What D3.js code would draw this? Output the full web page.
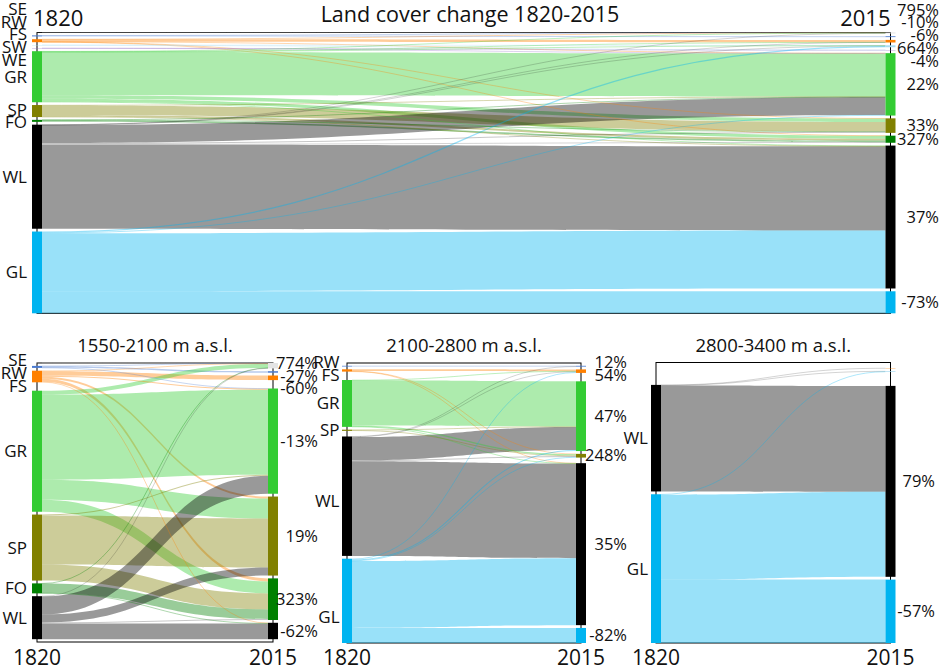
<!DOCTYPE html>
<html>
<head>
<meta charset="utf-8">
<script src="https://cdn.jsdelivr.net/npm/d3@7"></script>
<style>
  body { margin: 0; background: #fff; }
  text { font-family: "Open Sans", sans-serif; fill: #111; }
</style>
</head>
<body>
<svg id="chart"></svg>
<script>
// land cover classes, top to bottom
const classes = ["SE", "RW", "FS", "SW", "WE", "GR", "SP", "FO", "WL", "GL"];
const classColors = ["#e4e4e4", "#4a7bd0", "#ff8000", "#a8dcf2", "#9470c8",
                     "#33cc33", "#808000", "#008000", "#000000", "#00b4f0"];

// flows 1820 -> 2015 : [from, to, area]
const flowsAll = [
    ["SE", "SE", 0.1],
    ["RW", "SE", 0.15], ["RW", "RW", 0.85],
    ["FS", "SE", 0.1], ["FS", "FS", 2.4], ["FS", "GR", 0.2], ["FS", "SP", 0.2], ["FS", "FO", 0.1],
    ["SW", "SW", 0.25], ["SW", "WE", 0.05],
    ["WE", "WE", 0.25], ["WE", "GR", 0.05],
    ["GR", "SE", 0.5], ["GR", "FS", 0.1], ["GR", "SW", 0.3], ["GR", "GR", 43], ["GR", "SP", 3.5], ["GR", "FO", 3], ["GR", "WL", 0.6],
    ["SP", "GR", 0.5], ["SP", "SP", 9.5], ["SP", "FO", 1.8], ["SP", "WL", 0.2],
    ["FO", "GR", 0.1], ["FO", "SP", 0.3], ["FO", "FO", 1.6],
    ["WL", "SE", 0.1], ["WL", "FS", 0.1], ["WL", "SW", 0.2], ["WL", "GR", 18], ["WL", "SP", 1], ["WL", "FO", 0.6], ["WL", "WL", 84],
    ["GL", "SW", 1.2], ["GL", "GR", 0.5], ["GL", "WL", 58], ["GL", "GL", 22]
];
const flowsLow = [
    ["SE", "SE", 0.1],
    ["RW", "SE", 0.3], ["RW", "RW", 1.5], ["RW", "GR", 0.2],
    ["FS", "SE", 0.5], ["FS", "FS", 4.6], ["FS", "GR", 1], ["FS", "SP", 2], ["FS", "FO", 3], ["FS", "WL", 0.5],
    ["GR", "SE", 4], ["GR", "GR", 85], ["GR", "SP", 20], ["GR", "FO", 12],
    ["SP", "GR", 1], ["SP", "SP", 49], ["SP", "FO", 16],
    ["FO", "SE", 0.2], ["FO", "FO", 9.6], ["FO", "WL", 0.2],
    ["WL", "SE", 0.3], ["WL", "GR", 18], ["WL", "SP", 8], ["WL", "FO", 1], ["WL", "WL", 15.7]
];
const flowsMid = [
    ["RW", "RW", 0.7],
    ["FS", "FS", 1.8], ["FS", "SP", 0.3], ["FS", "WL", 0.2],
    ["GR", "FS", 0.3], ["GR", "GR", 45], ["GR", "SP", 1.2], ["GR", "WL", 0.2],
    ["SP", "GR", 0.5], ["SP", "SP", 0.7],
    ["WL", "RW", 0.1], ["WL", "FS", 0.6], ["WL", "GR", 23], ["WL", "SP", 1], ["WL", "WL", 94.3],
    ["GL", "FS", 0.8], ["GL", "GR", 1], ["GL", "SP", 0.5], ["GL", "WL", 66.7], ["GL", "GL", 15]
];
const flowsHigh = [
    ["WL", "FS", 0.3], ["WL", "SW", 0.3], ["WL", "WL", 106],
    ["GL", "SW", 0.4], ["GL", "WL", 85], ["GL", "GL", 63.4]
];

// labels on the 1820 side
const leftLabelsAll = ["SE", "RW", "FS", "SW", "WE", "GR", "SP", "FO", "WL", "GL"];
const leftLabelsLow = ["SE", "RW", "FS", "GR", "SP", "FO", "WL"];
const leftLabelsMid = ["RW", "FS", "GR", "SP", "WL", "GL"];
const leftLabelsHigh = ["WL", "GL"];

// change labels on the 2015 side, one per class
const changeAll = ["795%", "-10%", "-6%", "664%", "-4%", "22%", "33%", "327%", "37%", "-73%"];
const changeLow = ["774%", "-27%", "-60%", null, null, "-13%", "19%", "323%", "-62%", null];
const changeMid = [null, "12%", "54%", null, null, "47%", "248%", null, "35%", "-82%"];
const changeHigh = [null, null, null, null, null, null, null, null, "79%", "-57%"];

const years = ["1820", "2015"];

const width = 941, height = 670;
const barW = 10, gap = 2.8, labelGap = 12.8;

const svg = d3.select("#chart")
    .attr("width", width)
    .attr("height", height)
    .attr("viewBox", `0 0 ${width} ${height}`);

// small label shifts (in px) so stacked labels sit like the original
const smallUp = { SE: -6, RW: -6, FS: -6, SW: -6, WE: -6 };
const smallDown = { SE: 4, RW: 4, FS: 4 };

const panels = [
    { title: "Land cover change 1820-2015", flows: flowsAll, left: leftLabelsAll, right: changeAll,
      xL: 32, xR: 885.5, top: 32.5, bottom: 313.3, leftEnd: 27, rightEnd: 939, big: true,
      nudgeL: smallUp, nudgeR: smallUp },
    { title: "1550-2100 m a.s.l.", flows: flowsLow, left: leftLabelsLow, right: changeLow,
      xL: 32, xR: 268, top: 363, bottom: 642, leftEnd: 27, rightEnd: 318,
      nudgeL: smallDown, nudgeR: smallDown },
    { title: "2100-2800 m a.s.l.", flows: flowsMid, left: leftLabelsMid, right: changeMid,
      xL: 342, xR: 576, top: 363, bottom: 643, leftEnd: 339.5, rightEnd: 627,
      nudgeL: { WL: 5, GL: 16 }, nudgeR: {} },
    { title: "2800-3400 m a.s.l.", flows: flowsHigh, left: leftLabelsHigh, right: changeHigh,
      xL: 651, xR: 885.5, top: 362.5, bottom: 643, leftEnd: 648, rightEnd: 935,
      nudgeL: {}, nudgeR: {} }
];

// spread labels apart so they don't overlap, keeping clusters centred
const dodge = (items, minGap) => {
    let clusters = items.sort((a, b) => a.target - b.target)
        .map(d => ({ items: [d], mean: d.target }));
    const top = c => c.mean - (c.items.length - 1) * minGap / 2;
    let merged = true;
    while (merged) {
        merged = false;
        for (let i = 1; i < clusters.length; i++) {
            const a = clusters[i - 1], b = clusters[i];
            if (top(b) < top(a) + a.items.length * minGap) {
                const all = a.items.concat(b.items);
                clusters.splice(i - 1, 2, { items: all, mean: d3.mean(all, d => d.target) });
                merged = true;
                break;
            }
        }
    }
    clusters.forEach(c => c.items.forEach((d, j) => d.y = top(c) + j * minGap));
    return items;
};

const drawPanel = (p) => {
    const g = svg.append("g");

    const links = p.flows.map(([s, t, v]) => ({ s: classes.indexOf(s), t: classes.indexOf(t), v }));
    const leftTot = classes.map((c, i) => d3.sum(links.filter(l => l.s === i), l => l.v));
    const rightTot = classes.map((c, i) => d3.sum(links.filter(l => l.t === i), l => l.v));

    const k = d3.scaleLinear()
        .domain([0, d3.sum(leftTot)])
        .range([0, p.bottom - p.top - gap * (classes.length - 1)]);

    const stack = tots => {
        let y = p.top;
        return tots.map(v => {
            const n = { y0: y, y1: y + k(v), v };
            y = n.y1 + gap;
            return n;
        });
    };
    const nodesL = stack(leftTot);
    const nodesR = stack(rightTot);

    const offL = nodesL.map(n => n.y0);
    const offR = nodesR.map(n => n.y0);
    links.slice().sort((a, b) => a.s - b.s || a.t - b.t)
        .forEach(l => { l.y0 = offL[l.s]; offL[l.s] += k(l.v); });
    links.slice().sort((a, b) => a.t - b.t || a.s - b.s)
        .forEach(l => { l.y1 = offR[l.t]; offR[l.t] += k(l.v); l.h = k(l.v); });

    const x0 = p.xL + barW, x1 = p.xR, xm = (x0 + x1) / 2;

    // frame
    g.append("rect")
        .attr("x", p.xL + barW / 2)
        .attr("y", p.top)
        .attr("width", p.xR - p.xL)
        .attr("height", p.bottom - p.top)
        .attr("fill", "none")
        .attr("stroke", "#000")
        .attr("stroke-width", 1);

    // wide flows as bands
    g.selectAll(".band")
        .data(links.filter(l => l.h >= 1.5))
        .join("path")
        .attr("class", "band")
        .attr("d", l => {
            const path = d3.path();
            path.moveTo(x0, l.y0);
            path.bezierCurveTo(xm, l.y0, xm, l.y1, x1, l.y1);
            path.lineTo(x1, l.y1 + l.h);
            path.bezierCurveTo(xm, l.y1 + l.h, xm, l.y0 + l.h, x0, l.y0 + l.h);
            path.closePath();
            return path.toString();
        })
        .attr("fill", l => classColors[l.s])
        .attr("fill-opacity", 0.4);

    // thin flows as lines
    const linkGen = d3.linkHorizontal();
    g.selectAll(".thin")
        .data(links.filter(l => l.h < 1.5))
        .join("path")
        .attr("class", "thin")
        .attr("d", l => linkGen({ source: [x0, l.y0 + l.h / 2], target: [x1, l.y1 + l.h / 2] }))
        .attr("fill", "none")
        .attr("stroke", l => classColors[l.s])
        .attr("stroke-opacity", l => l.s === 8 ? 0.22 : 0.4)
        .attr("stroke-width", l => Math.max(l.h, 0.8));

    // nodes
    [[nodesL, p.xL], [nodesR, p.xR]].forEach(([nodes, x]) => {
        g.selectAll(null)
            .data(nodes.map((n, i) => ({ ...n, i })).filter(n => n.v > 0))
            .join("rect")
            .attr("x", x)
            .attr("y", n => n.y0)
            .attr("width", barW)
            .attr("height", n => n.y1 - n.y0)
            .attr("fill", n => classColors[n.i]);
    });

    // class labels (1820 side)
    const lefts = dodge(p.left.map(c => {
        const n = nodesL[classes.indexOf(c)];
        return { text: c, target: (n.y0 + n.y1) / 2 + (p.nudgeL[c] || 0) };
    }), labelGap);
    g.selectAll(".lab-left")
        .data(lefts)
        .join("text")
        .attr("class", "lab-left")
        .attr("x", p.leftEnd)
        .attr("y", d => d.y)
        .attr("dy", "0.35em")
        .attr("text-anchor", "end")
        .style("font-size", "17px")
        .text(d => d.text);

    // change labels (2015 side)
    const rights = dodge(p.right.map((txt, i) => txt && {
        text: txt, target: (nodesR[i].y0 + nodesR[i].y1) / 2 + (p.nudgeR[classes[i]] || 0)
    }).filter(d => d), labelGap);
    g.selectAll(".lab-right")
        .data(rights)
        .join("text")
        .attr("class", "lab-right")
        .attr("x", p.rightEnd)
        .attr("y", d => d.y)
        .attr("dy", "0.35em")
        .attr("text-anchor", "end")
        .style("font-size", "16.5px")
        .text(d => d.text);

    // titles and years
    if (p.big) {
        g.append("text")
            .attr("x", 470).attr("y", 22)
            .attr("text-anchor", "middle")
            .style("font-size", "21.5px")
            .text(p.title);
        g.append("text")
            .attr("x", p.xL + 1).attr("y", 26)
            .style("font-size", "22px")
            .text(years[0]);
        g.append("text")
            .attr("x", p.xR + barW / 2).attr("y", 26)
            .attr("text-anchor", "end")
            .style("font-size", "22px")
            .text(years[1]);
    } else {
        g.append("text")
            .attr("x", (p.xL + p.xR + barW) / 2).attr("y", 352)
            .attr("text-anchor", "middle")
            .style("font-size", "18.5px")
            .text(p.title);
        g.selectAll(".year")
            .data([p.xL, p.xR])
            .join("text")
            .attr("class", "year")
            .attr("x", d => d + barW / 2)
            .attr("y", 665)
            .attr("text-anchor", "middle")
            .style("font-size", "21px")
            .text((d, i) => years[i]);
    }
};

panels.forEach(drawPanel);
</script>
</body>
</html>
